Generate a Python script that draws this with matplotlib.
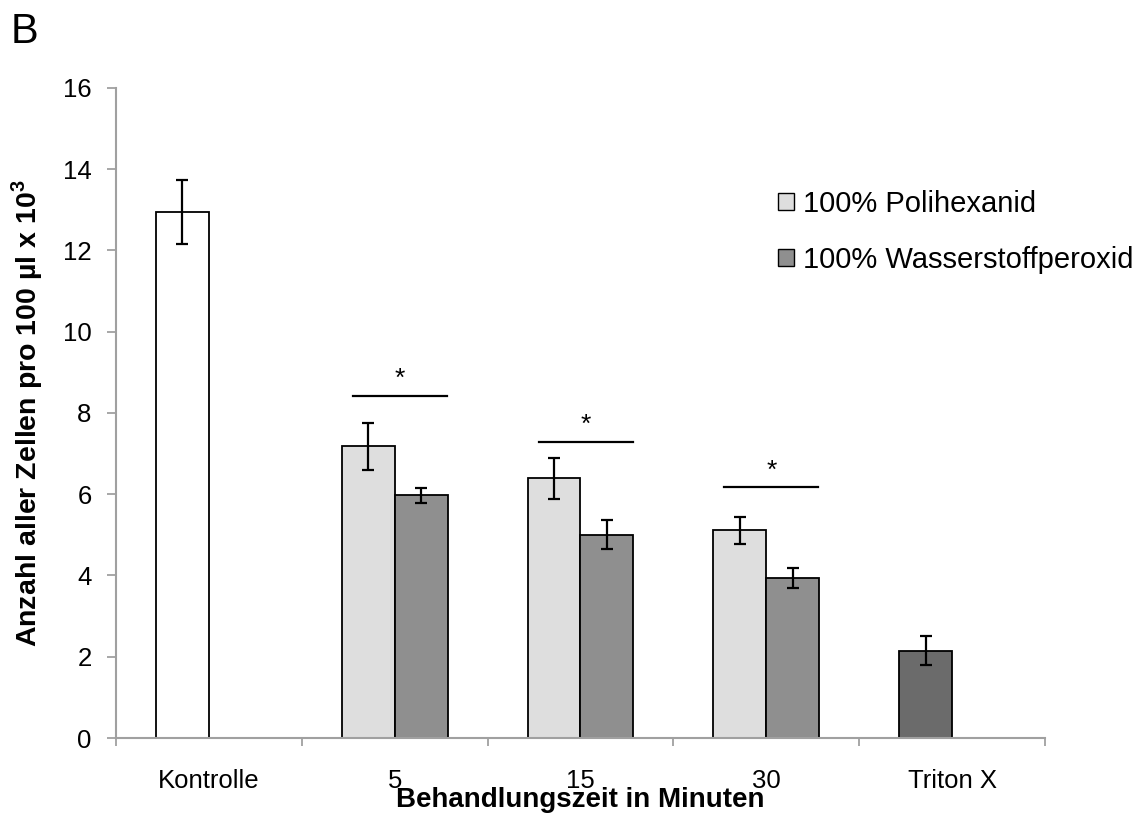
import numpy as np
import matplotlib
matplotlib.use("Agg")
import matplotlib.pyplot as plt
from matplotlib.patches import Patch

plt.rcParams['font.family'] = ['Liberation Sans', 'DejaVu Sans']

categories = ["Kontrolle", "5", "15", "30", "Triton X"]
kontrolle = 12.95
kontrolle_err = 0.79
poli = [7.18, 6.39, 5.11]
poli_err = [0.58, 0.50, 0.34]
h2o2 = [5.97, 5.0, 3.93]
h2o2_err = [0.19, 0.36, 0.25]
triton = 2.15
triton_err = 0.36
sig_height = [8.42, 7.29, 6.17]

w = 0.285
grey_axis = "#a0a0a0"

fig = plt.figure(figsize=(11.39, 8.19), dpi=100)
ax = fig.add_axes([0.1018, 0.0989, 0.8157, 0.7937])

ebkw = dict(ecolor="black", elinewidth=1.6, capsize=4, capthick=1.6)
edge = dict(edgecolor="black", linewidth=1.3)

ax.bar(0 - w / 2, kontrolle, w, color="white", yerr=kontrolle_err, error_kw=ebkw, **edge, zorder=2)
x_t = np.arange(1, 4)
ax.bar(x_t - w / 2, poli, w, color="#dedede", yerr=poli_err, error_kw=ebkw, **edge, zorder=2)
ax.bar(x_t + w / 2, h2o2, w, color="#8f8f8f", yerr=h2o2_err, error_kw=ebkw, **edge, zorder=2)
ax.bar(4 - w / 2, triton, w, color="#6b6b6b", yerr=triton_err, error_kw=ebkw, **edge, zorder=2)

# Signifikanz-Balken
for xi, h in zip(x_t, sig_height):
    ax.plot([xi - 0.225, xi + 0.28], [h, h], color="black", lw=1.6)
    ax.text(xi + 0.03, h + 0.12, "*", ha="center", va="bottom", fontsize=19)

ax.set_xlim(-0.5, 4.5)
ax.set_ylim(0, 16)
ax.set_yticks(np.arange(0, 17, 2))
ax.set_xticks(np.arange(5))
ax.set_xticklabels(categories)
ax.set_xticks(np.arange(-0.5, 5, 1), minor=True)
ax.tick_params(axis="x", which="major", length=0, pad=22, labelsize=18.5)
ax.tick_params(axis="x", which="minor", length=6, width=1.3, color=grey_axis, direction="out")
ax.tick_params(axis="y", length=6.5, width=1.3, color=grey_axis, direction="out", labelsize=18.5, pad=11)

for s in ["top", "right"]:
    ax.spines[s].set_visible(False)
for s in ["left", "bottom"]:
    ax.spines[s].set_color(grey_axis)
    ax.spines[s].set_linewidth(1.5)

ax.set_xlabel("Behandlungszeit in Minuten", fontsize=20, fontweight="bold", labelpad=-4)
ax.set_ylabel("Anzahl aller Zellen pro 100 µl x 10$^{\\mathregular{3}}$", fontsize=20.5, fontweight="bold")
ax.yaxis.set_label_coords(-0.076, 0.5)

handles = [Patch(facecolor="#dedede", edgecolor="black", linewidth=1.0),
           Patch(facecolor="#8f8f8f", edgecolor="black", linewidth=1.0)]
fig.legend(handles, ["100% Polihexanid", "100% Wasserstoffperoxid"],
           loc="upper left", bbox_to_anchor=(0.683, 0.768), frameon=False,
           fontsize=21, handlelength=0.55, handleheight=0.55, handletextpad=0.3,
           labelspacing=0.95, borderpad=0, borderaxespad=0)

fig.text(0.009, 0.9475, "B", fontsize=30, va="baseline")

fig.savefig("out.png", dpi=100)
